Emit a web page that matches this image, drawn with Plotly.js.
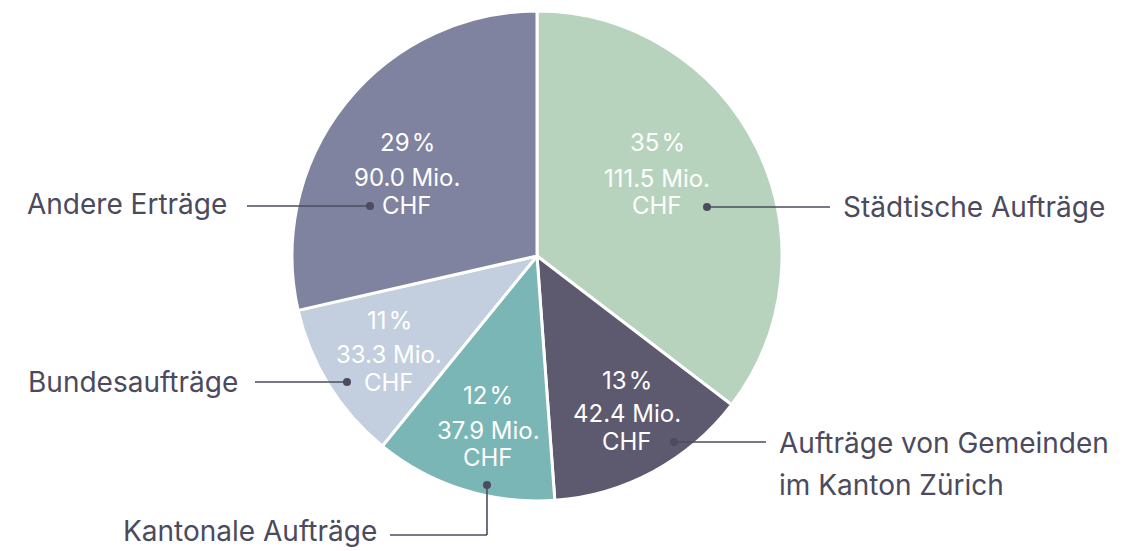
<!DOCTYPE html>
<html>
<head>
<meta charset="utf-8">
<script src="https://cdn.plot.ly/plotly-3.0.1.min.js"></script>
<style>
  html, body { margin: 0; padding: 0; background: #ffffff; }
  #chart { width: 1134px; height: 551px; }
</style>
</head>
<body>
<div id="chart"></div>
<script>
// ---- data ----
const categories = [
  "Städtische Aufträge",
  "Aufträge von Gemeinden im Kanton Zürich",
  "Kantonale Aufträge",
  "Bundesaufträge",
  "Andere Erträge"
];
const valuesMio = [111.5, 42.4, 37.9, 33.3, 90.0];
const sliceColors = ["#b8d3bd", "#5d5a70", "#7ab6b6", "#c3cfde", "#7f839f"];

// ---- layout helpers ----
const W = 1134, H = 551;
const px = x => x / W;
const py = y => 1 - y / H;
const cx = 537, cy = 256, R = 245;

const total = valuesMio.reduce((a, b) => a + b, 0);
const pct = valuesMio.map(v => Math.round(v / total * 100));

// inside label positions (pixel centres of the three text lines)
const insidePos = [
  {x: 657, y: [142, 178, 206]},
  {x: 627, y: [380, 413, 441]},
  {x: 488, y: [395, 430, 457]},
  {x: 389, y: [320, 354, 382]},
  {x: 407, y: [142, 177, 205]}
];

const labelFont = {family: "Inter, 'Noto Sans', sans-serif", size: 28, color: "#4b4a5e"};
const insideFont = {family: "Inter, 'Noto Sans', sans-serif", size: 24, color: "#ffffff"};
const lineColor = "#4d4b5f";

const annotations = [];
valuesMio.forEach((v, i) => {
  const p = insidePos[i];
  const lines = [pct[i] + "\u200A%", v.toFixed(1) + " Mio.", "CHF"];
  lines.forEach((t, k) => annotations.push({
    xref: "paper", yref: "paper", x: px(p.x), y: py(p.y[k]),
    xanchor: "center", yanchor: "middle", showarrow: false,
    text: t, font: insideFont
  }));
});

// outer labels
const outer = [
  {text: categories[0], x: 842, y: 207, anchor: "left"},
  {text: "Aufträge von Gemeinden", x: 778, y: 443, anchor: "left"},
  {text: "im Kanton Zürich", x: 778, y: 485, anchor: "left"},
  {text: categories[2], x: 378, y: 531, anchor: "right"},
  {text: categories[3], x: 239, y: 382, anchor: "right"},
  {text: categories[4], x: 228, y: 204, anchor: "right"}
];
outer.forEach(o => annotations.push({
  xref: "paper", yref: "paper", x: px(o.x), y: py(o.y),
  xanchor: o.anchor, yanchor: "middle", showarrow: false,
  text: o.text, font: labelFont, borderpad: 0
}));

// leader lines and dots
const segs = [
  [[707, 207], [830, 207]],
  [[674, 442], [766, 442]],
  [[487, 485], [487, 535]],
  [[487, 535], [390, 535]],
  [[347, 382], [255, 382]],
  [[370, 206], [247, 206]]
];
const dots = [[707, 207], [674, 442], [487, 485], [347, 382], [370, 206]];
const shapes = [];
segs.forEach(s => shapes.push({
  type: "line", xref: "paper", yref: "paper",
  x0: px(s[0][0]), y0: py(s[0][1]), x1: px(s[1][0]), y1: py(s[1][1]),
  line: {color: lineColor, width: 1.6}
}));
dots.forEach(d => shapes.push({
  type: "circle", xref: "paper", yref: "paper",
  x0: px(d[0] - 4), x1: px(d[0] + 4), y0: py(d[1] + 4), y1: py(d[1] - 4),
  fillcolor: lineColor, line: {width: 0}
}));

const trace = {
  type: "pie",
  labels: categories,
  values: valuesMio,
  sort: false,
  direction: "clockwise",
  rotation: 0,
  marker: {colors: sliceColors, line: {color: "#ffffff", width: 3}},
  textinfo: "none",
  hoverinfo: "label+value+percent",
  showlegend: false,
  domain: {x: [px(cx - R), px(cx + R)], y: [py(cy + R), py(cy - R)]}
};

const layout = {
  width: W, height: H,
  margin: {l: 0, r: 0, t: 0, b: 0},
  paper_bgcolor: "#ffffff",
  plot_bgcolor: "#ffffff",
  showlegend: false,
  annotations: annotations,
  shapes: shapes
};

Plotly.newPlot("chart", [trace], layout, {displayModeBar: false});
</script>
</body>
</html>
